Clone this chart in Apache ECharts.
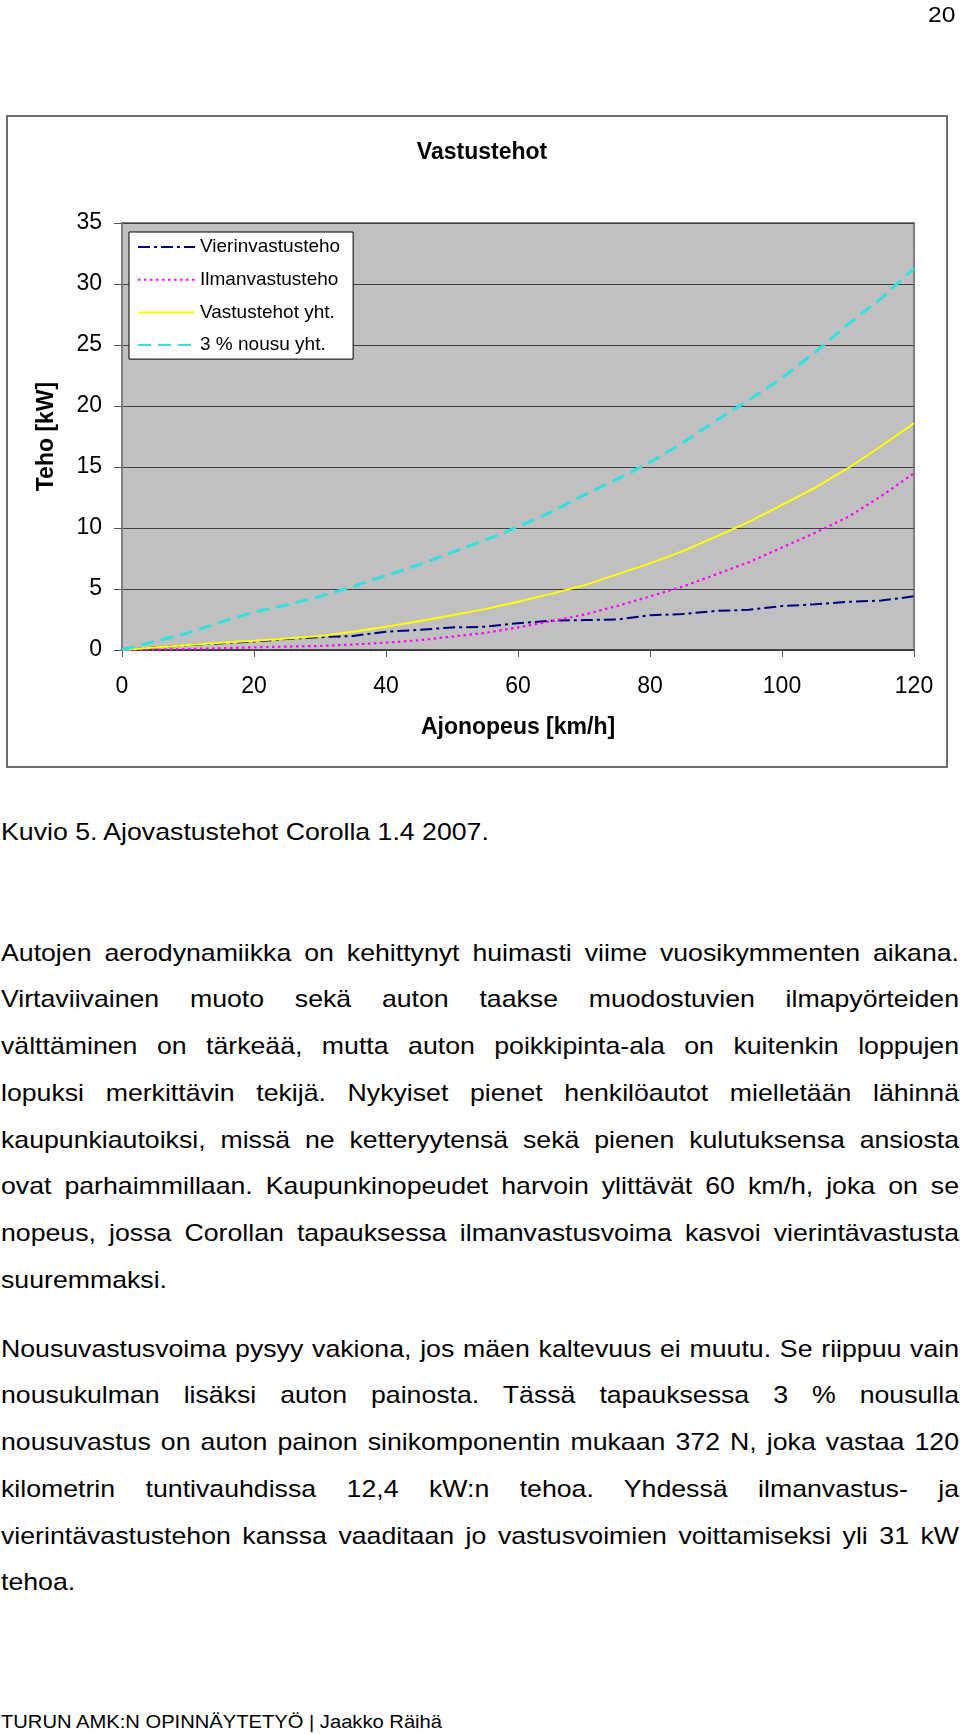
<!DOCTYPE html>
<html>
<head>
<meta charset="utf-8">
<script src="https://cdn.jsdelivr.net/npm/echarts@6/dist/echarts.min.js"></script>
<style>
  html, body { margin:0; padding:0; background:#fff; }
  body { width:960px; height:1734px; position:relative; overflow:hidden; font-family:"Liberation Sans", Arial, sans-serif; color:#000; }
  #chart { position:absolute; left:0; top:0; width:960px; height:790px; }
  .ln { position:absolute; left:1px; width:862px; font-size:24px; line-height:24px; white-space:normal;
        transform-origin:0 0; transform:scaleX(1.1114); }
  .j { text-align:justify; text-align-last:justify; }
  .l { text-align:left; text-align-last:left; }
  .foot { position:absolute; left:1px; font-size:18px; line-height:18px; transform-origin:0 0; transform:scaleX(1.12); white-space:nowrap; }
  .pg { position:absolute; right:5px; font-size:22px; line-height:22px; transform-origin:100% 0; transform:scaleX(1.12); white-space:nowrap; }
</style>
</head>
<body>
<div id="chart"></div>
<div id="text"></div>
<script>
// ---- chart data ----
const speeds = [0,5,10,15,20,25,30,35,40,45,50,55,60,65,70,75,80,85,90,95,100,105,110,115,120];
const vierinvastusteho = [0,0.2,0.4,0.55,0.7,0.9,1.05,1.15,1.5,1.65,1.85,1.9,2.2,2.4,2.45,2.5,2.85,2.95,3.2,3.3,3.6,3.75,3.95,4.05,4.4];
const ilmanvastusteho = [0,0.03,0.08,0.15,0.22,0.28,0.33,0.45,0.6,0.8,1.1,1.4,1.85,2.35,2.9,3.6,4.4,5.2,6.2,7.2,8.4,9.6,10.9,12.6,14.5];
const vastustehotYht = [0,0.2,0.4,0.6,0.75,0.95,1.15,1.5,1.9,2.35,2.85,3.35,3.95,4.6,5.3,6.2,7.1,8.1,9.3,10.5,11.9,13.3,14.9,16.7,18.6];
const nousuYht = [0,0.7,1.4,2.3,3.1,3.7,4.4,5.2,6.1,7.0,8.0,9.0,10.1,11.3,12.7,14.0,15.4,17.0,18.8,20.5,22.3,24.4,26.7,28.8,31.3];
const seriesNames = ["Vierinvastusteho","Ilmanvastusteho","Vastustehot yht.","3 % nousu yht."];
const xTicks = {min:0, max:120, interval:20};
const yTicks = {min:0, max:35, interval:5};
const chartTitle = "Vastustehot";
const xName = "Ajonopeus [km/h]";
const yName = "Teho [kW]";

// ---- text content ----
const caption = "Kuvio 5. Ajovastustehot Corolla 1.4 2007.";
const para1 = [
  "Autojen aerodynamiikka on kehittynyt huimasti viime vuosikymmenten aikana.",
  "Virtaviivainen muoto sekä auton taakse muodostuvien ilmapyörteiden",
  "välttäminen on tärkeää, mutta auton poikkipinta-ala on kuitenkin loppujen",
  "lopuksi merkittävin tekijä. Nykyiset pienet henkilöautot mielletään lähinnä",
  "kaupunkiautoiksi, missä ne ketteryytensä sekä pienen kulutuksensa ansiosta",
  "ovat parhaimmillaan. Kaupunkinopeudet harvoin ylittävät 60 km/h, joka on se",
  "nopeus, jossa Corollan tapauksessa ilmanvastusvoima kasvoi vierintävastusta",
  "suuremmaksi."
];
const para2 = [
  "Nousuvastusvoima pysyy vakiona, jos mäen kaltevuus ei muutu. Se riippuu vain",
  "nousukulman lisäksi auton painosta. Tässä tapauksessa 3 % nousulla",
  "nousuvastus on auton painon sinikomponentin mukaan 372 N, joka vastaa 120",
  "kilometrin tuntivauhdissa 12,4 kW:n tehoa. Yhdessä ilmanvastus- ja",
  "vierintävastustehon kanssa vaaditaan jo vastusvoimien voittamiseksi yli 31 kW",
  "tehoa."
];
const footer = "TURUN AMK:N OPINNÄYTETYÖ | Jaakko Räihä";
const pageNo = "20";

// ---- build text ----
(function(){
  const t = document.getElementById('text');
  function addLine(str, baseline, cls){
    const d = document.createElement('div');
    d.className = 'ln ' + cls;
    d.style.top = (baseline - 20.3) + 'px';
    d.textContent = str;
    t.appendChild(d);
  }
  addLine(caption, 840, 'l');
  const sp = 46.7;
  para1.forEach((s,i)=>addLine(s, 961 + i*sp, i===para1.length-1 ? 'l' : 'j'));
  para2.forEach((s,i)=>addLine(s, 1357 + i*sp, i===para2.length-1 ? 'l' : 'j'));
  const f = document.createElement('div');
  f.className = 'foot'; f.style.top = (1728 - 15.2) + 'px'; f.textContent = footer; t.appendChild(f);
  const p = document.createElement('div');
  p.className = 'pg'; p.style.top = (23 - 18.6) + 'px'; p.textContent = pageNo; t.appendChild(p);
})();

// ---- chart ----
const FONT = '"Liberation Sans", Arial, sans-serif';
const chart = echarts.init(document.getElementById('chart'), null, {renderer:'canvas'});
const pairs = arr => speeds.map((s,i)=>[s, arr[i]]);
const styles = [
  {color:'#000080', width:2, type:[12,4,3,4]},
  {color:'#ff00ff', width:2.2, type:[2.5,3.5]},
  {color:'#ffff00', width:2, type:'solid'},
  {color:'#33e0e0', width:3, type:[13,7]}
];
const dataSets = [vierinvastusteho, ilmanvastusteho, vastustehotYht, nousuYht];

chart.setOption({
  animation:false,
  backgroundColor:'#ffffff',
  title:{
    text:chartTitle, left:477, top:136, textAlign:'center',
    textStyle:{fontFamily:FONT, fontSize:23, fontWeight:'bold', color:'#000'}
  },
  graphic:[{
    type:'rect', silent:true, z:-1,
    shape:{x:7, y:116, width:940, height:651},
    style:{fill:'none', stroke:'#6e6e6e', lineWidth:2}
  }],
  grid:{
    left:122, top:223, width:792, height:427, show:true,
    backgroundColor:'#c0c0c0', borderColor:'#808080', borderWidth:2, containLabel:false
  },
  legend:{
    left:129, top:232, orient:'vertical',
    backgroundColor:'#ffffff', borderColor:'#000', borderWidth:1,
    padding:[4,13,3,8], itemGap:10.7, itemWidth:57, itemHeight:14,
    itemStyle:{opacity:0, borderWidth:0},
    textStyle:{fontFamily:FONT, fontSize:19, lineHeight:22, color:'#000'},
    data:seriesNames
  },
  xAxis:{
    type:'value', min:xTicks.min, max:xTicks.max, interval:xTicks.interval,
    name:xName, nameLocation:'middle', nameGap:66,
    nameTextStyle:{fontFamily:FONT, fontSize:23, fontWeight:'bold', color:'#000'},
    axisLine:{show:true, lineStyle:{color:'#333', width:1.5}},
    axisTick:{show:true, length:7, lineStyle:{color:'#555', width:1}},
    axisLabel:{margin:25, fontFamily:FONT, fontSize:23, color:'#000'},
    splitLine:{show:false}
  },
  yAxis:{
    type:'value', min:yTicks.min, max:yTicks.max, interval:yTicks.interval,
    name:yName, nameLocation:'middle', nameGap:64,
    nameTextStyle:{fontFamily:FONT, fontSize:23, fontWeight:'bold', color:'#000'},
    axisLine:{show:true, lineStyle:{color:'#808080', width:2}},
    axisTick:{show:true, length:8, lineStyle:{color:'#555', width:1}},
    axisLabel:{margin:20, fontFamily:FONT, fontSize:23, color:'#000'},
    splitLine:{show:true, lineStyle:{color:'#404040', width:1}}
  },
  series:seriesNames.map((n,i)=>({
    name:n, type:'line', data:pairs(dataSets[i]), symbol:'none', smooth:false,
    lineStyle:{color:styles[i].color, width:styles[i].width, type:styles[i].type},
    itemStyle:{color:styles[i].color}, z:2+i
  }))
});
</script>
</body>
</html>
